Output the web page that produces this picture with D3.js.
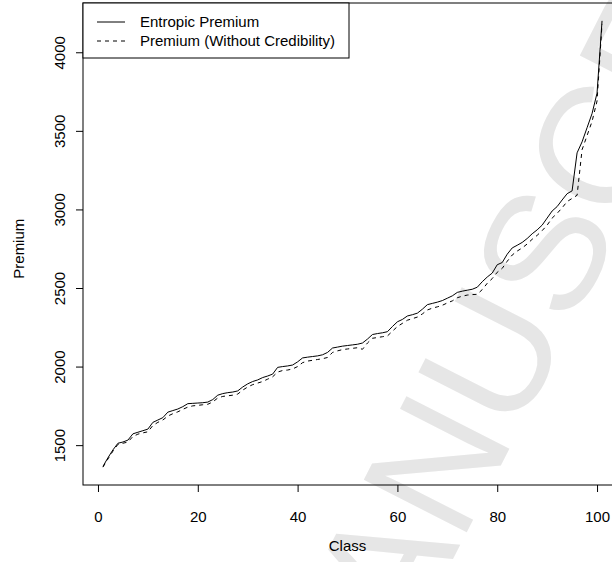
<!DOCTYPE html>
<html>
<head>
<meta charset="utf-8">
<script src="https://cdn.jsdelivr.net/npm/d3@7"></script>
<style>
  body { margin: 0; background: #fff; }
  svg text { font-family: "Liberation Sans", Arial, Helvetica, sans-serif; }
</style>
</head>
<body>
<div id="chart"></div>
<script>
// classes 1..101
var classes = d3.range(1, 102);

var entropic = [
  1365, 1420, 1470, 1512, 1520, 1532, 1572, 1582, 1592, 1602,
  1645, 1660, 1675, 1710, 1720, 1730, 1745, 1764, 1766, 1768,
  1770, 1774, 1790, 1818, 1828, 1834, 1838, 1845, 1870, 1890,
  1905, 1915, 1930, 1940, 1952, 1995, 2000, 2004, 2010, 2030,
  2055, 2060, 2064, 2068, 2075, 2090, 2118, 2124, 2130, 2134,
  2138, 2142, 2150, 2175, 2204, 2210, 2215, 2222, 2255, 2285,
  2300, 2322, 2330, 2340, 2365, 2394, 2402, 2410, 2420, 2435,
  2450, 2472, 2480, 2486, 2492, 2505, 2540, 2570, 2595, 2648,
  2662, 2715, 2755, 2772, 2790, 2815, 2845, 2870, 2900, 2945,
  2990, 3018, 3060, 3100, 3118, 3360, 3430, 3520, 3610, 3740,
  4200
];

var noCred = [
  1360, 1412, 1462, 1505, 1512, 1520, 1555, 1570, 1578, 1585,
  1625, 1645, 1660, 1685, 1700, 1712, 1728, 1742, 1750, 1753,
  1757, 1760, 1775, 1800, 1810, 1814, 1818, 1825, 1850, 1870,
  1885, 1895, 1905, 1920, 1935, 1965, 1975, 1978, 1985, 2000,
  2025, 2035, 2040, 2045, 2050, 2058, 2090, 2100, 2108, 2112,
  2116, 2120, 2110, 2150, 2180, 2185, 2190, 2195, 2225, 2255,
  2275, 2295, 2305, 2315, 2335, 2360, 2372, 2380, 2390, 2405,
  2418, 2438, 2448, 2455, 2458, 2460, 2490, 2530, 2560, 2600,
  2625, 2670, 2710, 2735, 2755, 2780, 2810, 2835, 2865, 2900,
  2945, 2975, 3010, 3050, 3070, 3090, 3380, 3470, 3560, 3690,
  4180
];

var xTicks = [0, 20, 40, 60, 80, 100];
var yTicks = [1500, 2000, 2500, 3000, 3500, 4000];
var legendLabels = ['Entropic Premium', 'Premium (Without Credibility)'];

var width = 612,
    height = 562,
    plot = { left: 83, right: 622, top: 3, bottom: 485 },
    font_size = 15;

var svg = d3.select('#chart').append('svg')
    .attr('width', width)
    .attr('height', height);

// watermark, sits behind everything
svg.append('text')
    .attr('transform', 'translate(346,769) rotate(-63)')
    .attr('font-size', 168)
    .attr('fill', '#e6e6e6')
    .text('MANUSCRIPT');

// R style padded domains (4% each side)
var xExt = d3.extent(classes),
    yExt = [d3.min(entropic.concat(noCred)), d3.max(entropic.concat(noCred))];
var xPad = (xExt[1] - xExt[0]) * 0.04,
    yPad = (yExt[1] - yExt[0]) * 0.04;

var x = d3.scaleLinear()
    .domain([xExt[0] - xPad, xExt[1] + xPad])
    .range([plot.left, plot.right]);
var y = d3.scaleLinear()
    .domain([yExt[0] - yPad, yExt[1] + yPad])
    .range([plot.bottom, plot.top]);

// lines
var line = d3.line()
    .x(function(d, i) { return x(classes[i]); })
    .y(function(d) { return y(d); });

svg.append('path')
    .datum(entropic)
    .attr('d', line)
    .attr('fill', 'none')
    .attr('stroke', '#000')
    .attr('stroke-width', 1);

svg.append('path')
    .datum(noCred)
    .attr('d', line)
    .attr('fill', 'none')
    .attr('stroke', '#000')
    .attr('stroke-width', 1)
    .attr('stroke-dasharray', '4,4');

// box
svg.append('rect')
    .attr('x', plot.left)
    .attr('y', plot.top)
    .attr('width', plot.right - plot.left)
    .attr('height', plot.bottom - plot.top)
    .attr('fill', 'none')
    .attr('stroke', '#000')
    .attr('stroke-width', 1);

// axes
var xAxis = svg.append('g')
    .attr('transform', 'translate(0,' + plot.bottom + ')')
    .call(d3.axisBottom(x).tickValues(xTicks).tickSize(7).tickPadding(19).tickFormat(d3.format('d')));
xAxis.select('.domain').remove();
xAxis.selectAll('text').attr('font-size', font_size).attr('fill', '#000').style('font-family', null);

var yAxis = svg.append('g')
    .attr('transform', 'translate(' + plot.left + ',0)')
    .call(d3.axisLeft(y).tickValues(yTicks).tickSize(7).tickFormat(d3.format('d')));
yAxis.select('.domain').remove();
yAxis.selectAll('text')
    .attr('font-size', font_size)
    .attr('fill', '#000')
    .attr('text-anchor', 'middle')
    .attr('x', null)
    .attr('dy', null)
    .attr('transform', 'translate(-18,0) rotate(-90)')
    .style('font-family', null);

// axis titles
svg.append('text')
    .attr('x', x(50))
    .attr('y', 551)
    .attr('text-anchor', 'middle')
    .attr('font-size', font_size)
    .text('Class');

svg.append('text')
    .attr('transform', 'translate(24,' + y(2750) + ') rotate(-90)')
    .attr('text-anchor', 'middle')
    .attr('font-size', font_size)
    .text('Premium');

// legend
var legend = svg.append('g');
legend.append('rect')
    .attr('x', plot.left)
    .attr('y', plot.top)
    .attr('width', 266)
    .attr('height', 55)
    .attr('fill', '#fff')
    .attr('stroke', '#000')
    .attr('stroke-width', 1);

legendLabels.forEach(function(lab, i) {
    var ly = 22 + i * 19;
    legend.append('line')
        .attr('x1', 97).attr('x2', 125)
        .attr('y1', ly).attr('y2', ly)
        .attr('stroke', '#000')
        .attr('stroke-dasharray', i === 1 ? '4,4' : null);
    legend.append('text')
        .attr('x', 140)
        .attr('y', ly)
        .attr('dy', '0.35em')
        .attr('font-size', font_size)
        .text(lab);
});
</script>
</body>
</html>
